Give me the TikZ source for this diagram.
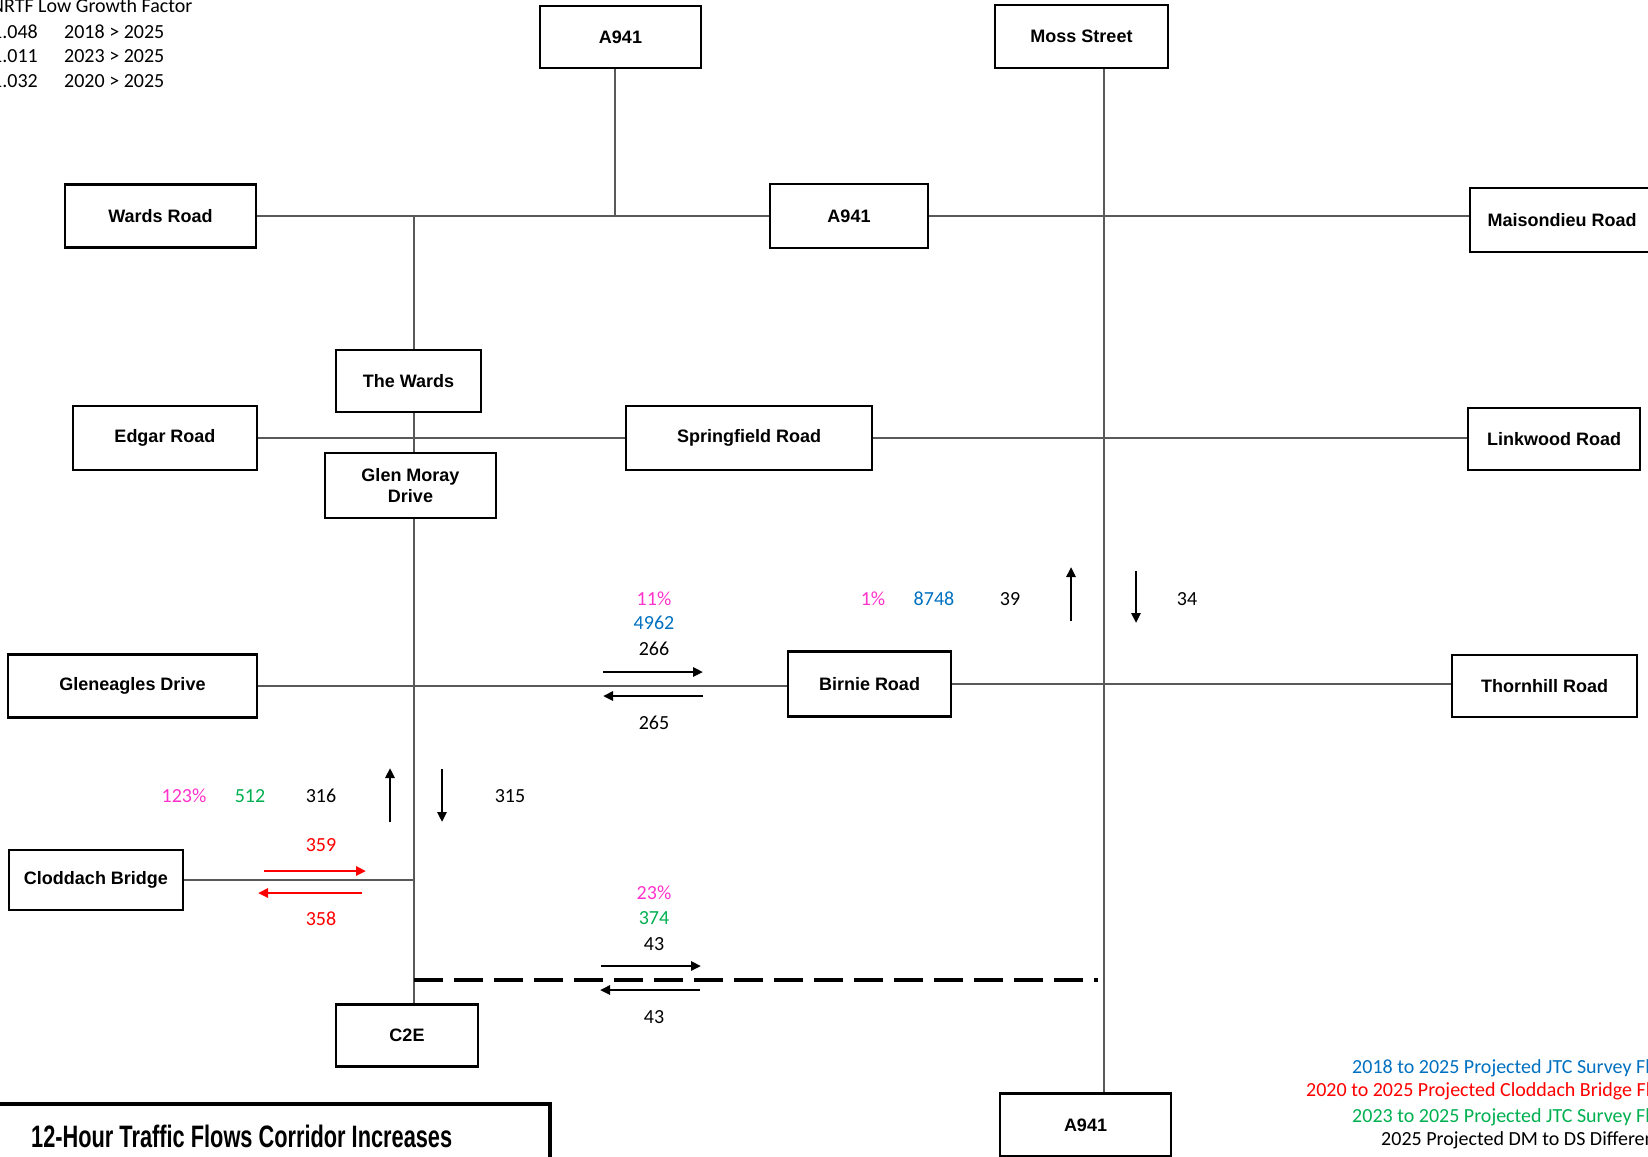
\documentclass[tikz,border=0pt]{standalone}
\usepackage{fontspec}
\setmainfont{Carlito}
\newfontfamily\roadfont{Liberation Sans}
\usepackage{xcolor}
\usepackage{graphicx}
\usetikzlibrary{arrows.meta}

\definecolor{pctpink}{RGB}{255,51,204}
\definecolor{jtcblue}{RGB}{0,112,192}
\definecolor{jtcgreen}{RGB}{0,176,80}
\definecolor{bridgered}{RGB}{255,0,0}

\begin{document}
\begin{tikzpicture}[
  x=1pt, y=-1pt,
  box/.style={draw=black, line width=2.2pt, fill=white, inner sep=0pt, align=center, font=\roadfont\bfseries\fontsize{18}{21}\selectfont},
  road/.style={draw=black!65, line width=1.1pt},
  val/.style={anchor=base, inner sep=0pt, font=\fontsize{20}{22}\selectfont},
  keytext/.style={val, anchor=base west},
  arr/.style={-{Triangle[length=10pt,width=9pt]}, line width=2.8pt, draw=black},
  redarr/.style={arr, draw=bridgered},
  corridor/.style={line width=4pt, dash pattern=on 29pt off 11pt}
]
\useasboundingbox (0,0) rectangle (1648,1156);
\clip (0,0) rectangle (1648,1156);

% junctions on the corridor
\coordinate (jtop) at (615,216);
\coordinate (jwest) at (414,216);
\coordinate (jmoss) at (1104,216);
\coordinate (dashL) at (414,980);
\coordinate (dashR) at (1098,980);

% roads
\node[box, minimum width=161pt, minimum height=62pt] (a941n) at (620.5,37) {A941};
\node[box, minimum width=173pt, minimum height=63pt] (moss) at (1081.5,36.5) {Moss Street};
\node[box, minimum width=191pt, minimum height=63pt] (wardsrd) at (160.5,216) {Wards Road};
\node[box, minimum width=158pt, minimum height=64pt] (a941m) at (849,216) {A941};
\node[box, minimum width=184pt, minimum height=64pt] (maison) at (1562,220) {Maisondieu Road};
\node[box, minimum width=145pt, minimum height=62pt] (thewards) at (408.5,381) {The Wards};
\node[box, minimum width=184pt, minimum height=64pt] (edgar) at (165,438) {Edgar Road};
\node[box, minimum width=246pt, minimum height=64pt] (springfield) at (749,438) {Springfield Road};
\node[box, minimum width=172pt, minimum height=62pt] (linkwood) at (1554,439) {Linkwood Road};
\node[box, minimum width=171pt, minimum height=65pt] (glenmoray) at (410.5,485.5) {Glen Moray\\Drive};
\node[box, minimum width=249pt, minimum height=63pt] (gleneagles) at (132.5,686) {Gleneagles Drive};
\node[box, minimum width=163pt, minimum height=65pt] (birnie) at (869.5,684) {Birnie Road};
\node[box, minimum width=185pt, minimum height=62pt] (thornhill) at (1544.5,686) {Thornhill Road};
\node[box, minimum width=174pt, minimum height=60pt] (cloddach) at (96,880) {Cloddach Bridge};
\node[box, minimum width=142pt, minimum height=62pt] (c2e) at (407,1035.5) {C2E};
\node[box, minimum width=171pt, minimum height=63pt] (a941s) at (1085.5,1125) {A941};

% links between roads
\draw[road] (wardsrd.east) -- (wardsrd.east -| a941m.west);
\draw[road] (a941m.east) -- (a941m.east -| maison.west);
\draw[road] (jtop |- a941n.south) -- (jtop);
\draw[road] (jwest) -- (jwest |- thewards.north);
\draw[road] (jwest |- thewards.south) -- (jwest |- glenmoray.north);
\draw[road] (jwest |- glenmoray.south) -- (jwest |- c2e.north);
\draw[road] (edgar.east) -- (springfield.west);
\draw[road] (springfield.east) -- (springfield.east -| linkwood.west);
\draw[road] (jmoss |- moss.south) -- (jmoss |- a941s.north);
\draw[road] (gleneagles.east) -- (gleneagles.east -| birnie.west);
\draw[road] (birnie.east) -- (birnie.east -| thornhill.west);
\draw[road] (cloddach.east) -- (cloddach.east -| jwest);
\draw[corridor] (dashL) -- (dashR);

% growth factors
\node[keytext] (nrtf) at (-9,13) {NRTF Low Growth Factor};
\node[keytext] (gf1) at (-8,38) {1.048};
\node[keytext] (yr1) at (64,38) {2018 > 2025};
\node[keytext] (gf2) at (-8,63) {1.011};
\node[keytext] (yr2) at (64,63) {2023 > 2025};
\node[keytext] (gf3) at (-8,87) {1.032};
\node[keytext] (yr3) at (64,87) {2020 > 2025};

% Birnie Road west of corridor
\node[val, text=pctpink] (bpct) at (654,605) {11\%};
\node[val, text=jtcblue] (bjtc) at (654,629) {4962};
\node[val] (beb) at (654,655) {266};
\node[val] (bwb) at (654,729) {265};
\draw[arr] (603,672) -- (703,672);
\draw[arr] (703,696) -- (603,696);

% A941 south of Moss Street
\node[val, text=pctpink] (mpct) at (873,605) {1\%};
\node[val, text=jtcblue] (mjtc) at (934,605) {8748};
\node[val] (mnb) at (1010,605) {39};
\node[val] (msb) at (1187,605) {34};
\draw[arr] (1071,621) -- (1071,567);
\draw[arr] (1136,571) -- (1136,623);

% C2E corridor
\node[val, text=pctpink] (cpct) at (184,802) {123\%};
\node[val, text=jtcgreen] (cjtc) at (250,802) {512};
\node[val] (cnb) at (321,802) {316};
\node[val] (csb) at (510,802) {315};
\draw[arr] (390,822) -- (390,768);
\draw[arr] (442,769) -- (442,822);

% Cloddach Bridge
\node[val, text=bridgered] (clEb) at (321,851) {359};
\node[val, text=bridgered] (clWb) at (321,925) {358};
\draw[redarr] (264,871) -- (366,871);
\draw[redarr] (362,893) -- (258,893);

% new link
\node[val, text=pctpink] (dpct) at (654,899) {23\%};
\node[val, text=jtcgreen] (djtc) at (654,924) {374};
\node[val] (deb) at (654,950) {43};
\node[val] (dwb) at (654,1023) {43};
\draw[arr] (601,966) -- (701,966);
\draw[arr] (700,990) -- (600,990);

% key
\node[keytext, text=jtcblue] (key1) at (1352,1073) {2018 to 2025 Projected JTC Survey Fl};
\node[keytext, text=bridgered] (key2) at (1306,1096) {2020 to 2025 Projected Cloddach Bridge Fl};
\node[keytext, text=jtcgreen] (key3) at (1352,1122) {2023 to 2025 Projected JTC Survey Fl};
\node[keytext] (key4) at (1381,1145) {2025 Projected DM to DS Differen};

% title
\draw[line width=4pt] (-10,1104) rectangle (550,1200);
\node[anchor=west, inner sep=0pt] (title) at (31,1136) {\resizebox{421pt}{\height}{\roadfont\bfseries\fontsize{31}{31}\selectfont 12-Hour Traffic Flows Corridor Increases}};
\end{tikzpicture}
\end{document}
